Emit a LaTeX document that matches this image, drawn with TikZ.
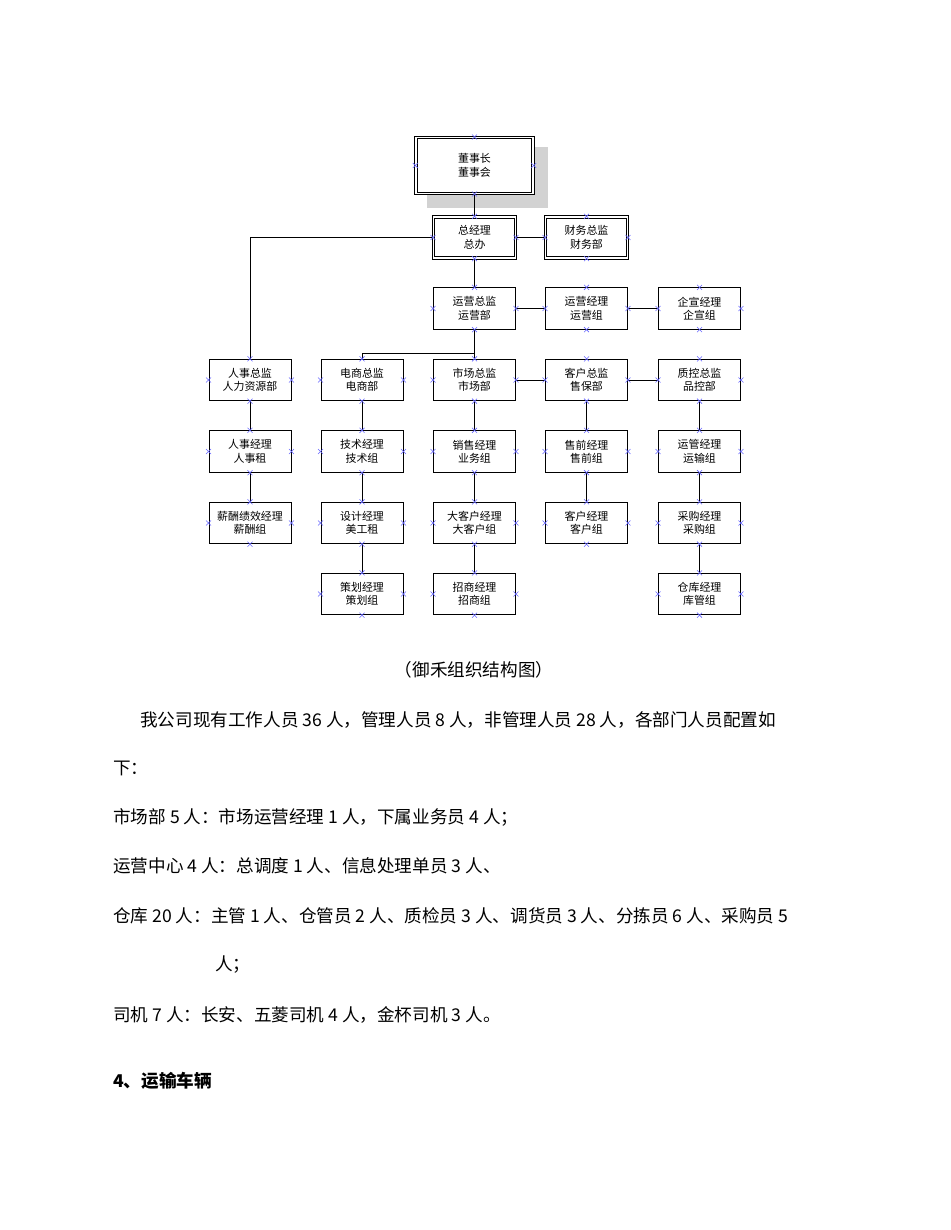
\documentclass[tikz,border=0pt]{standalone}
\usepackage{fontspec}
\setmainfont{Noto Sans CJK SC}
\begin{document}
\begin{tikzpicture}[x=0.75pt,y=-0.75pt,
  box/.style={draw,line width=0.7pt,minimum width=61.5pt,minimum height=31pt,inner sep=0pt,align=center,font=\fontsize{8.2}{10}\selectfont,fill=white},
  dbox/.style={box,double,double distance=1.2pt},
  ln/.style={line width=0.6pt},
  mk/.style={blue!60,line width=0.4pt},
  txt/.style={anchor=west,inner sep=0pt,font=\fontsize{13.2}{15}\selectfont}]
\useasboundingbox (0,0) rectangle (950,1230);
\fill[gray!35] (427,147) rectangle (548,208);
\node[dbox,minimum width=88pt,minimum height=42pt] (ds) at (474.5,165.5) {董事长\\董事会};
\node[dbox] (zj) at (474.5,237.5) {总经理\\总办};
\node[dbox] (cw) at (586.5,237.5) {财务总监\\财务部};
\node[box] (yy) at (474.5,308.5) {运营总监\\运营部};
\node[box] (yyj) at (586.5,308.5) {运营经理\\运营组};
\node[box] (qx) at (699.5,308.5) {企宣经理\\企宣组};
\foreach \n/\x/\a/\b/\c/\d in {
  rs/250/人事总监\\人力资源部/人事经理\\人事租/薪酬绩效经理\\薪酬组/,
  ds2/362/电商总监\\电商部/技术经理\\技术组/设计经理\\美工租/策划经理\\策划组,
  sc/474.5/市场总监\\市场部/销售经理\\业务组/大客户经理\\大客户组/招商经理\\招商组,
  kh/586.5/客户总监\\售保部/售前经理\\售前组/客户经理\\客户组/,
  zk/699.5/质控总监\\品控部/运管经理\\运输组/采购经理\\采购组/仓库经理\\库管组}{
  \node[box] (\n1) at (\x,380) {\a};
  \node[box] (\n2) at (\x,451.5) {\b};
  \node[box] (\n3) at (\x,523) {\c};
  \draw[ln] (\n1) -- (\n2); \draw[ln] (\n2) -- (\n3);
}
\node[box] (ds24) at (362,594) {策划经理\\策划组};
\node[box] (sc4) at (474.5,594) {招商经理\\招商组};
\node[box] (zk4) at (699.5,594) {仓库经理\\库管组};
\draw[ln] (ds23)--(ds24); \draw[ln] (sc3)--(sc4); \draw[ln] (zk3)--(zk4);
\draw[ln] (ds)--(zj); \draw[ln] (zj)--(cw); \draw[ln] (zj)--(yy);
\draw[ln] (yy)--(yyj); \draw[ln] (yyj)--(qx);
\draw[ln] (zj.west) -| (rs1.north);
\draw[ln] (yy.south) -- (sc1.north);
\draw[ln] (yy.south) ++(0,24) coordinate (j) -| (ds21.north);
\draw[ln] (sc1)--(kh1); \draw[ln] (kh1)--(zk1);
\foreach \n in {ds,zj,cw,yy,yyj,qx,rs1,rs2,rs3,ds21,ds22,ds23,ds24,sc1,sc2,sc3,sc4,kh1,kh2,kh3,zk1,zk2,zk3,zk4}
  \foreach \a in {north,south,east,west}
    \draw[mk] (\n.\a) ++(-2.5,-2.5) -- ++(5,5) ++(-5,0) -- ++(5,-5);
\node[font=\fontsize{13.2}{15}\selectfont] (cap) at (474,670) {（御禾组织结构图）};
\node[txt] (p1) at (140,720) {我公司现有工作人员 36 人，管理人员 8 人，非管理人员 28 人，各部门人员配置如};
\node[txt] (p2) at (113,768) {下：};
\node[txt] (p3) at (113,817) {市场部 5 人：市场运营经理 1 人，下属业务员 4 人；};
\node[txt] (p4) at (113,866) {运营中心 4 人：总调度 1 人、信息处理单员 3 人、};
\node[txt] (p5) at (113,916) {仓库 20 人：主管 1 人、仓管员 2 人、质检员 3 人、调货员 3 人、分拣员 6 人、采购员 5};
\node[txt] (p6) at (215,965) {人；};
\node[txt] (p7) at (113,1015) {司机 7 人：长安、五菱司机 4 人，金杯司机 3 人。};
\node[txt,font=\fontsize{13.2}{15}\selectfont\bfseries] (p8) at (113,1081) {4、运输车辆};
\end{tikzpicture}
\end{document}
